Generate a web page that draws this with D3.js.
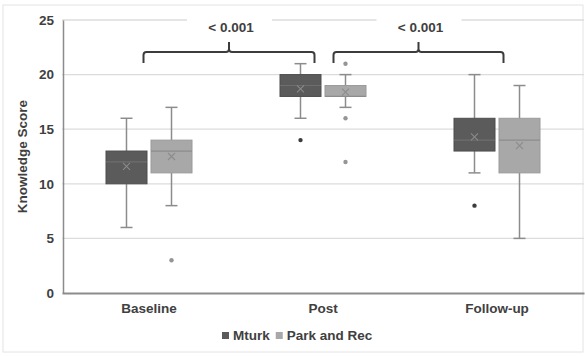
<!DOCTYPE html>
<html>
<head>
<meta charset="utf-8">
<script src="https://cdn.jsdelivr.net/npm/d3@7"></script>
<style>
  body { margin: 0; background: #fff; }
  text { font-family: "Liberation Sans", Arial, sans-serif; font-weight: bold; fill: #404040; }
</style>
</head>
<body>
<div id="chart"></div>
<script>
const categories = ["Baseline", "Post", "Follow-up"];
const groups = ["Mturk", "Park and Rec"];
const yTicks = [0, 5, 10, 15, 20, 25];

// [min, q1, median, q3, max] per category
const mturkBoxes = [[6, 10, 12, 13, 16], [16, 18, 19, 20, 21], [11, 13, 14, 16, 20]];
const mturkMeans = [11.6, 18.7, 14.3];
const mturkOutliers = [[], [14], [8]];

const parkBoxes = [[8, 11, 13, 14, 17], [17, 18, 18, 19, 20], [5, 11, 14, 16, 19]];
const parkMeans = [12.5, 18.4, 13.5];
const parkOutliers = [[3], [21, 16, 12], []];

const bracketPairs = [["Baseline", "Post"], ["Post", "Follow-up"]];
const pLabels = ["< 0.001", "< 0.001"];

const W = 585, H = 356;
const margin = { top: 20, right: 1, bottom: 63, left: 62 };

const svg = d3.select("#chart").append("svg")
  .attr("width", W).attr("height", H);

svg.append("rect")
  .attr("x", 3).attr("y", 5).attr("width", W - 5).attr("height", H - 9)
  .attr("fill", "none").attr("stroke", "#e4e4e4");

const x = d3.scaleBand().domain(categories).range([margin.left, W - margin.right]);
const xg = d3.scaleBand().domain(groups)
  .range([x.bandwidth() / 2 - 43, x.bandwidth() / 2 + 43]).paddingInner(0.089);
const y = d3.scaleLinear().domain([0, 25]).range([H - margin.bottom, margin.top]);

// gridlines
svg.append("g").selectAll("line").data(yTicks.slice(1)).join("line")
  .attr("x1", margin.left).attr("x2", W - margin.right)
  .attr("y1", d => y(d)).attr("y2", d => y(d))
  .attr("stroke", "#dcdcdc").attr("stroke-width", 1.3);

// y axis
const yAxis = svg.append("g")
  .attr("transform", `translate(${margin.left + 1},0)`)
  .call(d3.axisLeft(y).tickValues(yTicks).tickSize(0).tickPadding(9));
yAxis.select(".domain").attr("stroke", "#8c8c8c").attr("stroke-width", 1.5);
yAxis.selectAll("text").style("font-size", "13.5px").attr("fill", "#404040");

svg.append("text")
  .attr("transform", `translate(27,${(y(0) + y(25)) / 2}) rotate(-90)`)
  .attr("text-anchor", "middle")
  .style("font-size", "13.5px")
  .text("Knowledge Score");

// x axis
const xAxis = svg.append("g")
  .attr("transform", `translate(0,${y(0)})`)
  .call(d3.axisBottom(x).tickSize(0).tickPadding(10));
xAxis.select(".domain").attr("stroke", "#8c8c8c").attr("stroke-width", 2);
xAxis.selectAll("text").style("font-size", "13.5px").attr("fill", "#404040");

const series = [
  { name: "Mturk", boxes: mturkBoxes, means: mturkMeans, outliers: mturkOutliers,
    fill: "#5b5b5b", stroke: "#4c4c4c", median: "#6e6e6e", mark: "#8a8a8a", dot: "#3c3c3c" },
  { name: "Park and Rec", boxes: parkBoxes, means: parkMeans, outliers: parkOutliers,
    fill: "#a8a8a8", stroke: "#9a9a9a", median: "#8c8c8c", mark: "#8c8c8c", dot: "#959595" }
];

series.forEach(s => {
  categories.forEach((c, i) => {
    const [mn, q1, md, q3, mx] = s.boxes[i];
    const bx = x(c) + xg(s.name);
    const bw = xg.bandwidth();
    const cx = bx + bw / 2;
    const g = svg.append("g");
    const wc = "#8c8c8c";
    g.append("line").attr("x1", cx).attr("x2", cx).attr("y1", y(mx)).attr("y2", y(q3))
      .attr("stroke", wc).attr("stroke-width", 1.5);
    g.append("line").attr("x1", cx).attr("x2", cx).attr("y1", y(q1)).attr("y2", y(mn))
      .attr("stroke", wc).attr("stroke-width", 1.5);
    [mn, mx].forEach(v => {
      g.append("line").attr("x1", cx - 6).attr("x2", cx + 6).attr("y1", y(v)).attr("y2", y(v))
        .attr("stroke", wc).attr("stroke-width", 1.5);
    });
    g.append("rect").attr("x", bx).attr("y", y(q3)).attr("width", bw).attr("height", y(q1) - y(q3))
      .attr("fill", s.fill).attr("stroke", s.stroke).attr("stroke-width", 1);
    g.append("line").attr("x1", bx).attr("x2", bx + bw).attr("y1", y(md)).attr("y2", y(md))
      .attr("stroke", s.median).attr("stroke-width", 1.2);
    const my = y(s.means[i]);
    g.append("path")
      .attr("d", `M${cx - 3.5},${my - 3.5}L${cx + 3.5},${my + 3.5}M${cx - 3.5},${my + 3.5}L${cx + 3.5},${my - 3.5}`)
      .attr("stroke", s.mark).attr("stroke-width", 1.1);
    g.selectAll("circle").data(s.outliers[i]).join("circle")
      .attr("cx", cx).attr("cy", d => y(d)).attr("r", 2.2).attr("fill", s.dot);
  });
});

// significance brackets
const insets = [[-5.5, -8.5], [10.5, 6.5]];
bracketPairs.forEach(([a, b], i) => {
  const x1 = x(a) + x.bandwidth() / 2 + insets[i][0];
  const x2 = x(b) + x.bandwidth() / 2 + insets[i][1];
  const xm = (x1 + x2) / 2;
  const top = 52, bot = 63, peak = 42, r = 3;
  const path = `M${x1},${bot}L${x1},${top + r}Q${x1},${top} ${x1 + r},${top}` +
    `L${xm - r},${top}Q${xm},${top} ${xm},${top - r}L${xm},${peak}` +
    `M${xm},${top - r}Q${xm},${top} ${xm + r},${top}` +
    `L${x2 - r},${top}Q${x2},${top} ${x2},${top + r}L${x2},${bot}`;
  svg.append("path").attr("d", path).attr("fill", "none")
    .attr("stroke", "#3c3c3c").attr("stroke-width", 2);
  svg.append("rect").attr("x", xm - 42).attr("y", 15).attr("width", 85).attr("height", 22)
    .attr("fill", "#fff");
  svg.append("text").attr("x", xm + 2).attr("y", 32).attr("text-anchor", "middle")
    .style("font-size", "13.5px").text(pLabels[i]);
});

// legend
const legend = svg.append("g").attr("transform", "translate(222,332)");
let lx = 0;
groups.forEach((gname, i) => {
  legend.append("rect").attr("x", lx).attr("y", 0).attr("width", 7).attr("height", 7)
    .attr("fill", series[i].fill);
  const t = legend.append("text").attr("x", lx + 11).attr("y", 8)
    .style("font-size", "13.5px").text(gname);
  lx += 11 + t.node().getComputedTextLength() + 6;
});
</script>
</body>
</html>
